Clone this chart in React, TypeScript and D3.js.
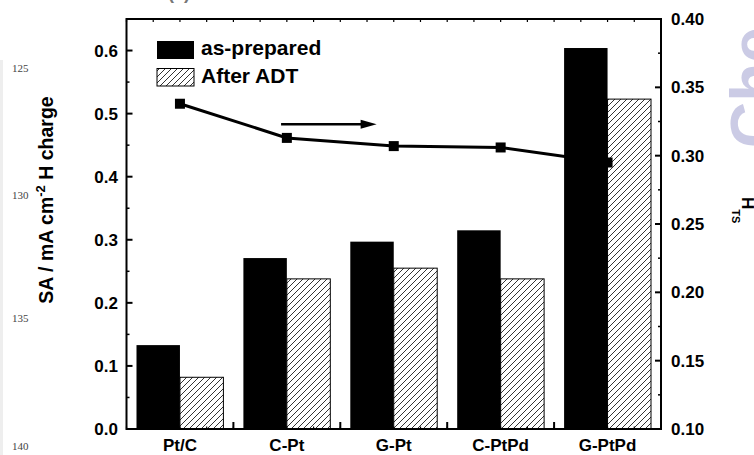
import React from "react";
import * as d3 from "d3";

const categories = ["Pt/C", "C-Pt", "G-Pt", "C-PtPd", "G-PtPd"];
const seriesNames = ["as-prepared", "After ADT"];
const asPrepared = [0.133, 0.271, 0.297, 0.315, 0.604];
const afterADT = [0.082, 0.238, 0.255, 0.238, 0.523];
const hts = [0.338, 0.313, 0.307, 0.306, 0.295];
const leftTicks = [0, 0.1, 0.2, 0.3, 0.4, 0.5, 0.6];
const rightTicks = [0.1, 0.15, 0.2, 0.25, 0.3, 0.35, 0.4];
const lineNumbers = [
  { label: "125", y: 72 },
  { label: "130", y: 199 },
  { label: "135", y: 322 },
  { label: "140", y: 450 },
];

const W = 754;
const H = 455;
const L = 126.5;
const R = 661;
const T = 19;
const B = 429;
const FONT = "'Liberation Sans', Arial, Helvetica, sans-serif";

export default function App() {
  const x = d3.scaleBand<string>().domain(categories).range([L, R]).padding(0);
  const bw = x.bandwidth();
  const x1 = d3.scaleBand<string>().domain(seriesNames).range([0, bw]).paddingInner(0).paddingOuter(0.23);
  const yL = d3.scaleLinear().domain([0, 0.65]).range([B, T]);
  const yR = d3.scaleLinear().domain([0.1, 0.4]).range([B, T]);

  const cx = (c: string) => (x(c) as number) + bw / 2;
  const lineGen = d3
    .line<number>()
    .x((_, i) => cx(categories[i]))
    .y((d) => yR(d));

  const leftMinor = d3.range(0.05, 0.65, 0.1);
  const rightMinor = d3.range(0.125, 0.4, 0.05);
  const quarterTicks = d3.range(0, 5 * 4 + 1).map((i) => L + (i * bw) / 4);
  const boundaries = d3.range(1, 5).map((i) => L + i * bw);

  // arrow in data coordinates
  const ax0 = (x("C-Pt") as number) + bw * 0.446;
  const ax1 = (x("G-Pt") as number) + bw * 0.34;
  const ay = yR(0.323);

  return (
    <svg
      width={W}
      height={H}
      viewBox={`0 0 ${W} ${H}`}
      style={{ position: "absolute", left: 0, top: 0, background: "#fff" }}
    >
      <defs>
        <pattern id="hatch" patternUnits="userSpaceOnUse" width={6} height={6}>
          <rect width={6} height={6} fill="#fff" />
          <path d="M0,6 L6,0 M-1.5,1.5 L1.5,-1.5 M4.5,7.5 L7.5,4.5" stroke="#000" strokeWidth={0.8} />
        </pattern>
      </defs>
      <rect x={0} y={0} width={W} height={H} fill="#fff" />
      <rect x={0} y={60} width={3} height={395} fill="#eeeeee" />

      {/* watermark */}
      <text
        transform={`translate(776,148) rotate(-90)`}
        fontFamily={FONT}
        fontWeight="bold"
        fontSize={64}
        fill="#cbcbe5"
      >
        Che
      </text>

      {/* line numbers */}
      {lineNumbers.map((n) => (
        <text key={n.label} x={12} y={n.y} fontFamily="'Liberation Serif', 'Times New Roman', serif" fontSize={11} fill="#444">
          {n.label}
        </text>
      ))}

      <text x={168} y={-1} fontFamily={FONT} fontWeight="bold" fontSize={18} fill="#777">
        (a)
      </text>

      {/* bars */}
      {categories.map((c, i) => (
        <g key={c}>
          <rect
            x={(x(c) as number) + (x1("as-prepared") as number)}
            y={yL(asPrepared[i])}
            width={x1.bandwidth()}
            height={B - yL(asPrepared[i])}
            fill="#000"
          />
          <rect
            x={(x(c) as number) + (x1("After ADT") as number)}
            y={yL(afterADT[i])}
            width={x1.bandwidth()}
            height={B - yL(afterADT[i])}
            fill="url(#hatch)"
            stroke="#000"
            strokeWidth={1}
          />
        </g>
      ))}

      {/* HTS line */}
      <path d={lineGen(hts) || ""} fill="none" stroke="#000" strokeWidth={3} />
      {hts.map((v, i) => (
        <rect key={i} x={cx(categories[i]) - 5} y={yR(v) - 5} width={10} height={10} fill="#000" />
      ))}

      {/* arrow */}
      <line x1={ax0} y1={ay} x2={ax1 - 14} y2={ay} stroke="#000" strokeWidth={2.5} />
      <path d={`M${ax1 - 16},${ay - 4.5} L${ax1},${ay} L${ax1 - 16},${ay + 4.5} Z`} fill="#000" />

      {/* frame */}
      <rect x={L} y={T} width={R - L} height={B - T} fill="none" stroke="#000" strokeWidth={2} />

      {/* left ticks */}
      {leftTicks.map((t) => (
        <g key={"l" + t}>
          <line x1={L} x2={L + 6} y1={yL(t)} y2={yL(t)} stroke="#000" strokeWidth={2} />
          <text x={118} y={yL(t) + 6} textAnchor="end" fontFamily={FONT} fontWeight="bold" fontSize={17}>
            {d3.format(".1f")(t)}
          </text>
        </g>
      ))}
      {leftMinor.map((t) => (
        <line key={"lm" + t} x1={L} x2={L + 3} y1={yL(t)} y2={yL(t)} stroke="#000" strokeWidth={1.5} />
      ))}

      {/* right ticks */}
      {rightTicks.map((t) => (
        <g key={"r" + t}>
          <line x1={R - 6} x2={R} y1={yR(t)} y2={yR(t)} stroke="#000" strokeWidth={2} />
          <text x={671} y={yR(t) + 6} textAnchor="start" fontFamily={FONT} fontWeight="bold" fontSize={17}>
            {d3.format(".2f")(t)}
          </text>
        </g>
      ))}
      {rightMinor.map((t) => (
        <line key={"rm" + t} x1={R - 3} x2={R} y1={yR(t)} y2={yR(t)} stroke="#000" strokeWidth={1.5} />
      ))}

      {/* top & bottom ticks */}
      {quarterTicks.map((q, i) => (
        <g key={"q" + i}>
          <line x1={q} x2={q} y1={T} y2={T + 3} stroke="#000" strokeWidth={1.2} />
          <line x1={q} x2={q} y1={B} y2={B - 2.5} stroke="#000" strokeWidth={1.2} />
        </g>
      ))}
      {boundaries.map((b) => (
        <line key={"b" + b} x1={b} x2={b} y1={B} y2={B - 7} stroke="#000" strokeWidth={2} />
      ))}

      {/* category labels */}
      {categories.map((c) => (
        <text key={"c" + c} x={cx(c)} y={451} textAnchor="middle" fontFamily={FONT} fontWeight="bold" fontSize={17}>
          {c}
        </text>
      ))}

      {/* legend */}
      <rect x={157} y={41} width={37} height={18} fill="#000" />
      <text x={201} y={55} fontFamily={FONT} fontWeight="bold" fontSize={21}>
        {seriesNames[0]}
      </text>
      <rect x={157} y={68.5} width={37} height={17.5} fill="url(#hatch)" stroke="#000" strokeWidth={1} />
      <text x={201} y={83} fontFamily={FONT} fontWeight="bold" fontSize={21}>
        {seriesNames[1]}
      </text>

      {/* axis titles */}
      <text
        transform={`translate(53,200) rotate(-90)`}
        textAnchor="middle"
        fontFamily={FONT}
        fontWeight="bold"
        fontSize={19.5}
      >
        SA / mA cm
        <tspan dy={-8} fontSize={13}>-2</tspan>
        <tspan dy={8}> H charge</tspan>
      </text>
      <text transform={`translate(742,197) rotate(90)`} fontFamily={FONT} fontWeight="bold" fontSize={17}>
        H
        <tspan dy={10} fontSize={11}>TS</tspan>
      </text>
    </svg>
  );
}
